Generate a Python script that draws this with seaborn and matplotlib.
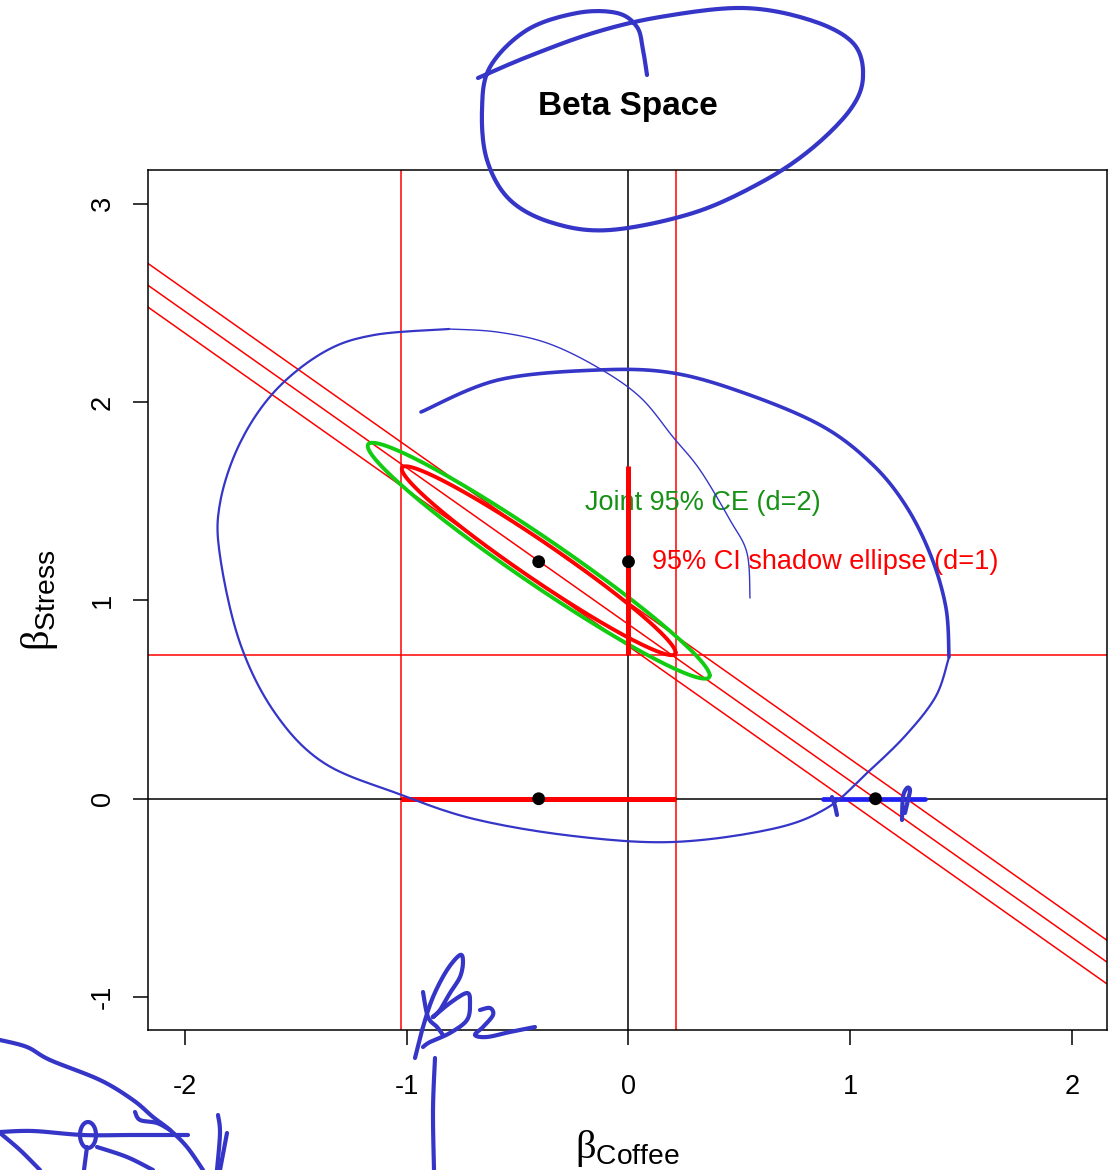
import numpy as np
import matplotlib
matplotlib.use("Agg")
import matplotlib.pyplot as plt
import seaborn as sns

# Оценки коэффициентов (центр эллипсов) и их ошибки
b_coffee = -0.405
b_stress = 1.20
se_coffee = 0.315
se_stress = 0.243
r_beta = -0.972

# Маргинальные 95% интервалы
ci_coffee = [-1.024, 0.212]
ci_stress = [0.726, 1.680]

# Точки
point_x = [-0.405, 0.0, -0.405, 1.114]
point_y = [1.195, 1.195, 0.0, 0.0]

# Три параллельные прямые
line_slope = -0.789
line_intercepts = [0.769, 0.879, 0.989]

# Радиусы эллипсов: d=1 и d=2
radius_d1 = 1.96
radius_d2 = 2.448

label_joint = "Joint 95% CE (d=2)"
label_shadow = "95% CI shadow ellipse (d=1)"
label_joint_pos = (-0.194, 1.493)
label_shadow_pos = (0.104, 1.195)

x_ticks = [-2, -1, 0, 1, 2]
y_ticks = [-1, 0, 1, 2, 3]
x_lim = (-2.167, 2.158)
y_lim = (-1.166, 3.17)

# Рукописные пометки (в пикселях картинки)
seg_blue = [0.875, 1.339]
loop_thin = [(750, 598), (747, 553), (730, 520), (700, 470), (673, 437), (640, 397),
             (597, 367), (547, 343), (497, 332), (449, 329)]
loop_mid = [(449, 329), (374, 335), (324, 352), (275, 391), (240, 443), (220, 503),
            (220, 556), (240, 643), (275, 713), (324, 763), (399, 794), (474, 819),
            (573, 836), (673, 842), (772, 829), (827, 808), (867, 773), (906, 735),
            (936, 696), (949, 657)]
loop_thick = [(949, 657), (946, 608), (931, 556), (906, 506), (872, 464), (822, 426),
              (747, 394), (673, 373), (598, 370), (498, 380), (421, 412)]
title_loop = [(478, 78), (527, 57), (593, 33), (660, 17), (743, 8), (810, 20), (853, 43),
              (863, 77), (850, 110), (810, 150), (760, 183), (693, 213), (610, 230),
              (553, 223), (510, 200), (487, 160), (482, 110), (490, 67), (527, 30),
              (577, 13), (617, 13), (637, 27), (643, 50), (647, 75)]
scribbles = [
    [(415, 1058), (423, 1027), (433, 997), (447, 970), (460, 955), (463, 962), (460, 977),
     (450, 993), (440, 1010), (433, 1017), (450, 1003), (467, 993), (470, 1003),
     (467, 1020), (450, 1033), (430, 1042), (423, 1047)],
    [(423, 992), (428, 1017), (437, 1027), (443, 1035)],
    [(480, 1010), (490, 1008), (493, 1015), (483, 1027), (475, 1035), (487, 1037),
     (510, 1032), (535, 1027)],
    [(435, 1058), (433, 1110), (434, 1170)],
    [(0, 1040), (27, 1047), (50, 1060), (100, 1080), (133, 1100), (153, 1117),
     (170, 1130), (187, 1147), (203, 1170)],
    [(135, 1112), (140, 1120), (157, 1123), (170, 1130)],
    [(0, 1132), (33, 1131), (83, 1135), (133, 1135), (188, 1135)],
    [(0, 1133), (20, 1150), (40, 1170)],
    [(97, 1147), (127, 1157), (153, 1170)],
    [(87, 1147), (84, 1170)],
    [(218, 1115), (220, 1133), (217, 1170)],
    [(227, 1133), (220, 1170)],
    [(832, 797), (835, 806), (837, 815)],
    [(902, 820), (903, 797), (907, 788), (910, 790), (908, 800), (905, 813)],
]


def smooth(pts, closed=False, n=12):
    p = np.asarray(pts, float)
    if closed:
        p = np.vstack([p[-1], p, p[0], p[1]])
    else:
        p = np.vstack([p[0], p, p[-1]])
    out = []
    t = np.linspace(0, 1, n, endpoint=False)[:, None]
    for i in range(1, len(p) - 2):
        p0, p1, p2, p3 = p[i - 1], p[i], p[i + 1], p[i + 2]
        out.append(0.5 * (2 * p1 + (-p0 + p2) * t + (2 * p0 - 5 * p1 + 4 * p2 - p3) * t ** 2
                          + (-p0 + 3 * p1 - 3 * p2 + p3) * t ** 3))
    out.append(p[-2][None])
    return np.vstack(out)


def ellipse(radius):
    cov = np.array([[se_coffee ** 2, r_beta * se_coffee * se_stress],
                    [r_beta * se_coffee * se_stress, se_stress ** 2]])
    L = np.linalg.cholesky(cov)
    t = np.linspace(0, 2 * np.pi, 200)
    pts = radius * L @ np.vstack([np.cos(t), np.sin(t)])
    return b_coffee + pts[0], b_stress + pts[1]


sns.set_style("white")
plt.rcParams["font.family"] = ["Liberation Sans", "DejaVu Sans"]
plt.rcParams["mathtext.fontset"] = "custom"
plt.rcParams["mathtext.rm"] = "Liberation Serif"
plt.rcParams["mathtext.sf"] = "Liberation Sans"
for k in ["text.color", "axes.labelcolor", "xtick.color", "ytick.color"]:
    plt.rcParams[k] = "black"

fig = plt.figure(figsize=(11.15, 11.7), dpi=100)
ax = fig.add_axes([148 / 1115, 1 - 1030 / 1170, (1107 - 148) / 1115, (1030 - 170) / 1170])

# Тонкие красные линии интервалов
for v in ci_coffee:
    ax.axvline(v, color="red", lw=1.1, zorder=1)
ax.axhline(ci_stress[0], color="red", lw=1.1, zorder=1)
ax.axvline(0, color="black", lw=1.1, zorder=1)
ax.axhline(0, color="black", lw=1.1, zorder=1)

xs = np.array(x_lim)
for b0 in line_intercepts:
    sns.lineplot(x=xs, y=b0 + line_slope * xs, color="red", lw=1.1, ax=ax, zorder=2)

ex, ey = ellipse(radius_d2)
sns.lineplot(x=ex, y=ey, sort=False, estimator=None, color="#11CC11", lw=2.8, ax=ax, zorder=3)
ex, ey = ellipse(radius_d1)
sns.lineplot(x=ex, y=ey, sort=False, estimator=None, color="red", lw=2.8, ax=ax, zorder=4)

ax.plot(ci_coffee, [0, 0], color="red", lw=3.6, solid_capstyle="butt", zorder=5)
ax.plot([0, 0], ci_stress, color="red", lw=3.6, solid_capstyle="butt", zorder=5)
ax.plot(seg_blue, [0, 0], color="#2020F0", lw=3.4, solid_capstyle="round", zorder=6)

sns.scatterplot(x=point_x, y=point_y, color="black", s=85, edgecolor="none", ax=ax, zorder=7)

ax.text(*label_joint_pos, label_joint, color="#169116", fontsize=19.5, va="center", ha="left")
ax.text(*label_shadow_pos, label_shadow, color="red", fontsize=19.5, va="center", ha="left")

ax.set_xlim(*x_lim)
ax.set_ylim(*y_lim)
ax.set_xticks(x_ticks)
ax.set_yticks(y_ticks)
ax.set_xticklabels([str(v) for v in x_ticks], fontsize=19.5)
ax.set_yticklabels([str(v) for v in y_ticks], fontsize=19.5, rotation=90, va="center")
ax.tick_params(axis="x", length=11, width=1.1, pad=21, direction="out", bottom=True)
ax.tick_params(axis="y", length=11, width=1.1, pad=12, direction="out", left=True)
for s in ax.spines.values():
    s.set_color("black")
    s.set_linewidth(1.1)
ax.set_xlabel(r"$\mathrm{\beta}_{\mathsf{Coffee}}$", fontsize=29, labelpad=20)
ax.set_ylabel(r"$\mathrm{\beta}_{\mathsf{Stress}}$", fontsize=29, labelpad=22)
fig.text(628 / 1115, 1 - 106 / 1170, "Beta Space", fontsize=24, fontweight="bold",
         ha="center", va="center")

# Слой для рукописных пометок
ov = fig.add_axes([0, 0, 1, 1], zorder=10)
ov.set_xlim(0, 1115)
ov.set_ylim(1170, 0)
ov.axis("off")
ov.patch.set_alpha(0)
blue = "#3535C8"
p = smooth(loop_thin)
ov.plot(p[:, 0], p[:, 1], color=blue, lw=1.0)
p = smooth(loop_mid)
ov.plot(p[:, 0], p[:, 1], color=blue, lw=1.6)
p = smooth(loop_thick)
ov.plot(p[:, 0], p[:, 1], color=blue, lw=2.6)
p = smooth(title_loop)
ov.plot(p[:, 0], p[:, 1], color=blue, lw=3.0, solid_capstyle="round")
for st in scribbles:
    p = smooth(st, n=8)
    ov.plot(p[:, 0], p[:, 1], color=blue, lw=3.0, solid_capstyle="round", solid_joinstyle="round")
t = np.linspace(0, 2 * np.pi, 60)
ov.plot(88 + 8 * np.cos(t), 1135 + 13 * np.sin(t), color=blue, lw=3.0)

fig.savefig("out.png", dpi=100)
